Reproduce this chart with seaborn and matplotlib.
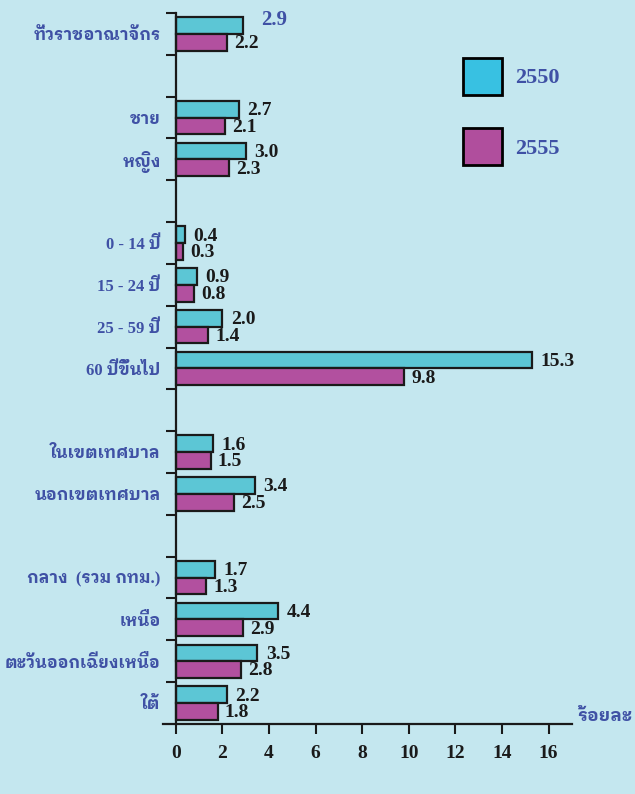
# Thai chart: two survey years, horizontal grouped bars
import pandas as pd
import matplotlib
matplotlib.use('Agg')
import matplotlib.pyplot as plt
import seaborn as sns
from matplotlib import font_manager
from matplotlib.ft2font import FT2Font
from matplotlib.patches import Patch

# data
groups = ['ทั่วราชอาณาจักร', 'ชาย', 'หญิง', '0 - 14 ปี', '15 - 24 ปี', '25 - 59 ปี',
          '60 ปีขึ้นไป', 'ในเขตเทศบาล', 'นอกเขตเทศบาล', 'กลาง  (รวม กทม.)',
          'เหนือ', 'ตะวันออกเฉียงเหนือ', 'ใต้']
v2550 = [2.9, 2.7, 3.0, 0.4, 0.9, 2.0, 15.3, 1.6, 3.4, 1.7, 4.4, 3.5, 2.2]
v2555 = [2.2, 2.1, 2.3, 0.3, 0.8, 1.4, 9.8, 1.5, 2.5, 1.3, 2.9, 2.8, 1.8]
years = ['2550', '2555']
# rows of the chart, blank strings leave an empty slot between sections
row_order = ['ทั่วราชอาณาจักร', ' ', 'ชาย', 'หญิง', '  ', '0 - 14 ปี', '15 - 24 ปี',
             '25 - 59 ปี', '60 ปีขึ้นไป', '   ', 'ในเขตเทศบาล', 'นอกเขตเทศบาล', '    ',
             'กลาง  (รวม กทม.)', 'เหนือ', 'ตะวันออกเฉียงเหนือ', 'ใต้']
xticks = [0, 2, 4, 6, 8, 10, 12, 14, 16]

df = pd.DataFrame({
    'group': groups * 2,
    'year': [years[0]] * len(groups) + [years[1]] * len(groups),
    'value': v2550 + v2555,
})

# look for an installed font that can draw Thai, looped / serif styles first
thai_fonts = set()
for f in font_manager.fontManager.ttflist:
    try:
        if 0x0E01 in FT2Font(f.fname).get_charmap():
            thai_fonts.add(f.name)
    except Exception:
        pass


def rank(name):
    for i, key in enumerate(['Looped', 'Serif Thai', 'Norasi', 'Garuda', 'Loma', 'Sarabun',
                             'Kinnari', 'Thai']):
        if key.lower() in name.lower():
            return i
    return 99


thai_family = sorted(thai_fonts, key=lambda n: (rank(n), n))[:1]

bg = '#c4e7ef'
blue = '#3f51a5'
cyan = '#5cc6d5'
magenta = '#b2509f'
dark = '#1a1a1a'

sns.set_style('white')
plt.rcParams['font.family'] = ['Liberation Serif'] + thai_family + ['DejaVu Sans']
label_family = ['Liberation Serif'] + thai_family + ['DejaVu Sans']

fig = plt.figure(figsize=(6.35, 7.94), dpi=100, facecolor=bg)
ax = fig.add_axes([0.2567, 0.0882, 0.644, 0.8955], facecolor=bg)

sns.barplot(data=df, y='group', x='value', hue='year', order=row_order,
            hue_order=years, palette=[cyan, magenta], saturation=1,
            orient='h', width=0.8, edgecolor=dark, linewidth=1.6,
            legend=False, ax=ax)

ax.set_xlim(-0.55, 17)
ax.set_ylim(16.5, -0.5)
ax.set_xlabel('')
ax.set_ylabel('')

for s in ['top', 'right']:
    ax.spines[s].set_visible(False)
ax.spines['left'].set_position(('data', 0))
for s in ['left', 'bottom']:
    ax.spines[s].set_linewidth(1.6)
    ax.spines[s].set_color(dark)

ax.set_xticks(xticks)
ax.set_xticklabels([str(t) for t in xticks], fontsize=14, fontweight='bold',
                   family='Liberation Serif', color=dark)
ax.tick_params(axis='x', direction='out', length=7, width=1.5, pad=8,
               color=dark, bottom=True)

ax.set_yticks(range(len(row_order)))
ax.set_yticklabels([r.strip() for r in row_order], fontsize=12, fontweight='bold',
                   color=blue, family=label_family)
ax.tick_params(axis='y', which='major', length=0, pad=11)
ax.set_yticks([i - 0.5 for i in range(len(row_order))], minor=True)
ax.tick_params(axis='y', which='minor', direction='out', length=7, width=1.5,
               color=dark, left=True)

# value labels next to each bar
for k, cont in enumerate(ax.containers):
    for p in cont.patches:
        w = p.get_width()
        yc = p.get_y() + p.get_height() / 2
        if k == 0 and yc < 0:
            ax.annotate(f'{w:.1f}', (w, yc), xytext=(13, 4), textcoords='offset points',
                        va='center', ha='left', fontsize=15, fontweight='bold', color=blue)
        else:
            ax.annotate(f'{w:.1f}', (w, yc), xytext=(6 if k == 0 else 5, -1),
                        textcoords='offset points', va='center', ha='left',
                        fontsize=14, fontweight='bold', color=dark)

ax.text(1.012, 0.01, 'ร้อยละ', transform=ax.transAxes, va='center', ha='left',
        fontsize=13, fontweight='bold', color=blue, family=label_family)

handles = [Patch(facecolor='#38c1e2', edgecolor='black', linewidth=2),
           Patch(facecolor='#b04e9d', edgecolor='black', linewidth=2)]
fig.legend(handles, years, loc='upper left', bbox_to_anchor=(0.729, 0.927),
           frameon=False, prop={'weight': 'bold', 'size': 16},
           labelcolor=blue, handlelength=1.77, handleheight=2.19,
           handletextpad=0.6, labelspacing=1.5, borderpad=0, borderaxespad=0)

fig.savefig('out.png', dpi=100, facecolor=bg)
